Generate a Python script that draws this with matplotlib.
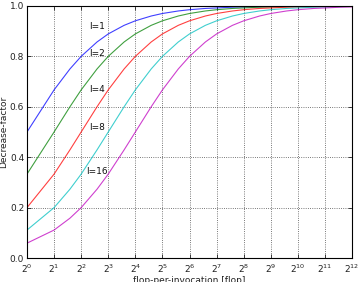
import matplotlib
matplotlib.use("Agg")
import matplotlib.pyplot as plt
from matplotlib.ticker import LogLocator, LogFormatterMathtext, MultipleLocator

x = [1, 2, 3, 4, 6, 8, 12, 16, 24, 32, 48, 64, 96, 128, 192, 256, 384, 512,
     768, 1024, 1536, 2048, 3072, 4096]
y_l1 = [0.5, 0.667, 0.75, 0.8, 0.857, 0.889, 0.923, 0.941, 0.96, 0.97, 0.98, 0.985,
        0.99, 0.992, 0.995, 0.996, 0.997, 0.998, 0.999, 0.999, 0.999, 1.0, 1.0, 1.0]
y_l2 = [0.333, 0.5, 0.6, 0.667, 0.75, 0.8, 0.857, 0.889, 0.923, 0.941, 0.96, 0.97,
        0.98, 0.985, 0.99, 0.992, 0.995, 0.996, 0.997, 0.998, 0.999, 0.999, 0.999, 1.0]
y_l4 = [0.2, 0.333, 0.429, 0.5, 0.6, 0.667, 0.75, 0.8, 0.857, 0.889, 0.923, 0.941,
        0.96, 0.97, 0.98, 0.985, 0.99, 0.992, 0.995, 0.996, 0.997, 0.998, 0.999, 0.999]
y_l8 = [0.111, 0.2, 0.273, 0.333, 0.429, 0.5, 0.6, 0.667, 0.75, 0.8, 0.857, 0.889,
        0.923, 0.941, 0.96, 0.97, 0.98, 0.985, 0.99, 0.992, 0.995, 0.996, 0.997, 0.998]
y_l16 = [0.059, 0.111, 0.158, 0.2, 0.273, 0.333, 0.429, 0.5, 0.6, 0.667, 0.75, 0.8,
         0.857, 0.889, 0.923, 0.941, 0.96, 0.97, 0.98, 0.985, 0.99, 0.992, 0.995, 0.996]
series = [y_l1, y_l2, y_l4, y_l8, y_l16]
labels = ["l=1", "l=2", "l=4", "l=8", "l=16"]
label_x = 6
label_y = [0.917, 0.81, 0.667, 0.516, 0.342]
colors = ["#0000ff", "#008000", "#ff0000", "#00bfbf", "#bf00bf"]

fig = plt.figure(figsize=(3.6, 2.82), dpi=100)
ax = fig.add_axes([0.075, 0.085, 0.903, 0.894])
for ys, c in zip(series, colors):
    ax.plot(x, ys, color=c, lw=0.8, alpha=0.75)
for t, ly in zip(labels, label_y):
    ax.text(label_x, ly, t, ha="center", va="center", fontsize=6.5, color="#111111")

ax.set_xscale("log", base=2)
ax.set_xlim(1, 4096)
ax.set_ylim(0, 1)
ax.xaxis.set_major_locator(LogLocator(base=2, numticks=20))
ax.xaxis.set_major_formatter(LogFormatterMathtext(base=2))
ax.xaxis.set_minor_locator(matplotlib.ticker.NullLocator())
ax.yaxis.set_major_locator(MultipleLocator(0.2))
ax.yaxis.set_major_formatter(matplotlib.ticker.FormatStrFormatter("%.1f"))
ax.grid(True, color="k", linestyle=":", lw=0.6, alpha=0.7)
ax.tick_params(direction="in", top=True, right=True, labelsize=6.5, length=3, width=0.6, pad=3,
               colors="#222222")
ax.tick_params(axis="y", pad=2)
for s in ax.spines.values():
    s.set_linewidth(0.8)
ax.set_xlabel("flop-per-invocation [flop]", fontsize=6.5, labelpad=1, color="#222222")
ax.set_ylabel("Decrease-factor", fontsize=6.5, labelpad=1, color="#222222")
fig.savefig("out.png", dpi=100)
